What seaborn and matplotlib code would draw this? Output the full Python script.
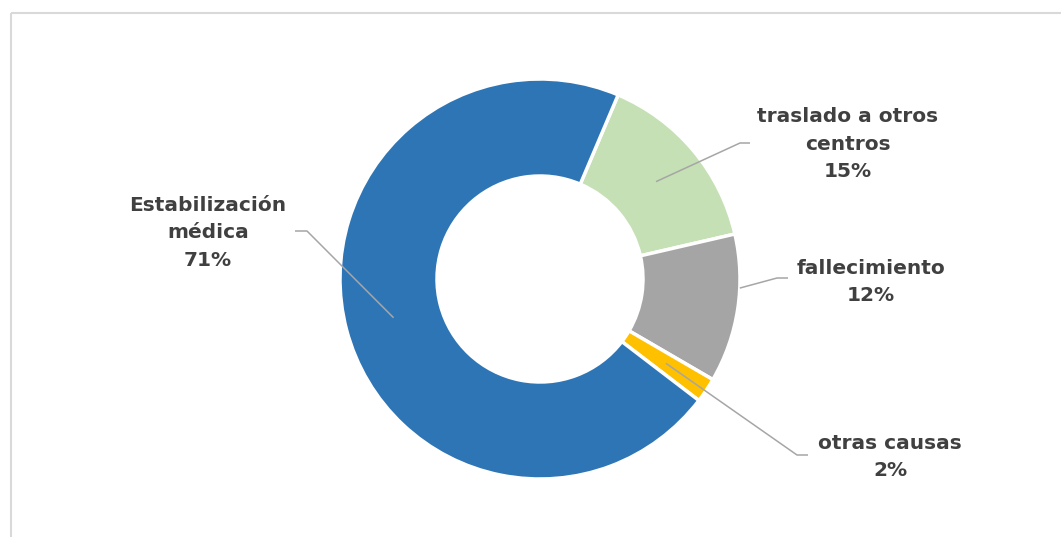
import numpy as np
import matplotlib
matplotlib.use("Agg")
import matplotlib.pyplot as plt
import seaborn as sns

# Outcome shares (percent), in drawing order clockwise from the first slice
categories = ["traslado a otros\ncentros", "fallecimiento", "otras causas", "Estabilización\nmédica"]
shares = [15, 12, 2, 71]
colors = ["#C5E0B4", "#A5A5A5", "#FFC000", "#2E75B6"]

sns.set_theme(style="white")
plt.rcParams["font.family"] = ["DejaVu Sans"]

W, H = 1061, 537
fig = plt.figure(figsize=(W / 100, H / 100), dpi=100)
ax = fig.add_axes([0, 0, 1, 1])

cx, cy = 540, H - 279
r_out, ring = 200, 97
start_from_top = 23  # degrees clockwise from 12 o'clock
wedges, _ = ax.pie(
    shares,
    colors=sns.color_palette(colors),
    startangle=90 - start_from_top,
    counterclock=False,
    center=(cx, cy),
    radius=r_out,
    wedgeprops=dict(width=ring, edgecolor="white", linewidth=2.5),
    frame=True,
)
ax.set_xlim(0, W)
ax.set_ylim(0, H)
ax.axis("off")

# chart border (top and left edges visible)
ax.plot([11, W], [H - 13, H - 13], color="#D9D9D9", lw=1.5, solid_capstyle="butt")
ax.plot([11, 11], [H - 13, 0], color="#D9D9D9", lw=1.5, solid_capstyle="butt")

# label layout: (elbow x, elbow y, line end x, text x, text y, anchor radius, anchor angle override)
label_layout = [
    (740, 143, 750, 848, 144, None, None),
    (777, 278, 788, 871, 282, r_out, 92.6),
    (797, 455, 808, 890, 457, None, None),
    (307, 231, 295, 208, 233, None, None),
]

r_mid = r_out - ring / 2
cum = np.cumsum([0] + shares[:-1])
for i, (name, val) in enumerate(zip(categories, shares)):
    ex, ey, endx, tx, ty, ar, aang = label_layout[i]
    mid = start_from_top + (cum[i] + val / 2) * 3.6
    ang = aang if aang is not None else mid
    rad = ar if ar is not None else r_mid
    a = np.deg2rad(ang)
    ax0 = cx + rad * np.sin(a)
    ay0 = cy + rad * np.cos(a)
    ax.plot([ax0, ex, endx], [ay0, H - ey, H - ey], color="#A6A6A6", lw=1.1,
            solid_capstyle="butt", zorder=5)
    ax.text(tx, H - ty, f"{name}\n{val}%", ha="center", va="center",
            fontsize=14.5, fontweight="bold", color="#404040", linespacing=1.55)

fig.savefig("out.png", dpi=100, facecolor="white")
